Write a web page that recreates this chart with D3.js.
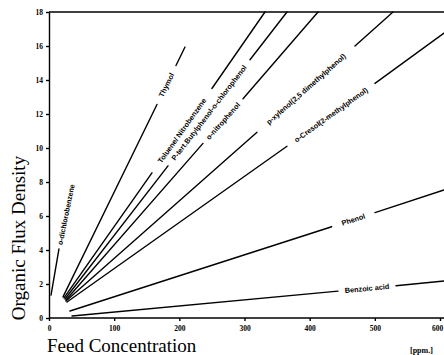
<!DOCTYPE html>
<html>
<head>
<meta charset="utf-8">
<script src="https://cdn.jsdelivr.net/npm/d3@7"></script>
<style>
body{margin:0;background:#fff;}
</style>
</head>
<body>
<div id="chart"></div>
<script>
// label written along each line
const names = ["o-dichlorobenzene", "Thymol", "Toluene/ Nitrobenzene", "P-tert.Butylphenol-o-chlorophenol",
  "o-nitrophenol", "p-xylenol(2,5 dimethylphenol)", "o-Cresol(2-methylphenol)", "Phenol", "Benzoic acid"];
// start of every line [ppm] / [flux]
const startX = [3.1, 21.5, 23, 24.5, 26, 26, 27.6, 32.2, 35.3];
const startY = [1.35, 1.24, 1.18, 1.12, 1.06, 1.0, 0.94, 0.41, 0.12];
// the line is broken where the label sits
const gapStartX = [15.3, 165.7, 158, 182.6, 236.3, 319.2, 365.2, 433.8, 443.5];
const gapStartY = [4.06, 12.56, 8.54, 8.95, 10.27, 10.93, 10.1, 5.37, 1.58];
const gapEndX = [36.8, 194.9, 250, 308.4, 297.7, 469.5, 500.2, 500.2, 532.5];
const gapEndY = [8.1, 14.85, 13.5, 15.19, 12.9, 16.0, 13.8, 6.2, 1.9];
// end of every line (null : the line stops at its label)
const endX = [null, 208.7, 331.4, 365.2, 412.8, 527.9, 606.1, 606.1, 606.1];
const endY = [null, 15.94, 18, 18, 18, 18, 16.76, 7.53, 2.18];

const xTicks = [0, 100, 200, 300, 400, 500, 600];
const yTicks = [0, 2, 4, 6, 8, 10, 12, 14, 16, 18];

function draw(width = 444, height = 355){
  const svg = d3.select("#chart").append("svg")
    .attr("width", width)
    .attr("height", height)
    .style("display", "block");

  const x = d3.scaleLinear().domain([0, 600]).range([49, 440]);
  const y = d3.scaleLinear().domain([0, 18]).range([318, 12]);

  svg.append("clipPath").attr("id", "plotclip")
    .append("rect").attr("x", x(0)).attr("y", y(18) - 1).attr("width", width - x(0)).attr("height", y(0) - y(18) + 2);

  const line = d3.line().x(d => x(d[0])).y(d => y(d[1]));

  // line pieces : before the label and after it
  let pieces = [];
  for (const i of names.keys()){
    pieces.push([[startX[i], startY[i]], [gapStartX[i], gapStartY[i]]]);
    if (endX[i] != null) pieces.push([[gapEndX[i], gapEndY[i]], [endX[i], endY[i]]]);
  }

  const plot = svg.append("g").attr("clip-path", "url(#plotclip)");
  plot.selectAll("path")
    .data(pieces)
    .enter()
    .append("path")
    .attr("d", d => line(d))
    .attr("fill", "none")
    .attr("stroke", "#000")
    .attr("stroke-width", 1.4)
    .attr("stroke-linecap", "round");

  // labels in the gaps, turned like the line
  plot.selectAll("text.lbl")
    .data(names)
    .enter()
    .append("text")
    .attr("class", "lbl")
    .attr("transform", (d, i) => {
      const x1 = x(gapStartX[i]), y1 = y(gapStartY[i]), x2 = x(gapEndX[i]), y2 = y(gapEndY[i]);
      const ang = Math.atan2(y2 - y1, x2 - x1) * 180 / Math.PI;
      return `translate(${(x1 + x2) / 2},${(y1 + y2) / 2}) rotate(${ang})`;
    })
    .attr("text-anchor", "middle")
    .attr("dy", "0.35em")
    .style("font-family", "Liberation Sans, Arial, sans-serif")
    .style("font-weight", "bold")
    .style("font-size", "7.3px")
    .text(d => d)
    .each(function(d, i){
      // squeeze a label that would not fit in its gap
      const gap = Math.hypot(x(gapEndX[i]) - x(gapStartX[i]), y(gapEndY[i]) - y(gapStartY[i]));
      if (this.getComputedTextLength() > gap * 0.88)
        d3.select(this).attr("textLength", gap * 0.88).attr("lengthAdjust", "spacingAndGlyphs");
    });

  // frame : top line and bottom line go to the page edge
  svg.append("line").attr("x1", x(0)).attr("x2", width).attr("y1", y(18)).attr("y2", y(18))
    .attr("stroke", "#000").attr("stroke-width", 1.6);
  svg.append("line").attr("x1", x(0)).attr("x2", width).attr("y1", y(0)).attr("y2", y(0))
    .attr("stroke", "#000").attr("stroke-width", 1.6);

  const yAxis = svg.append("g")
    .attr("transform", `translate(${x(0)},0)`)
    .call(d3.axisLeft(y).tickValues(yTicks).tickSize(3).tickSizeOuter(0).tickPadding(3));
  const xAxis = svg.append("g")
    .attr("transform", `translate(0,${y(0)})`)
    .call(d3.axisBottom(x).tickValues(xTicks).tickSize(3).tickSizeOuter(0).tickPadding(5));
  xAxis.select(".domain").remove();
  // last label sits on the page edge
  xAxis.selectAll(".tick text").filter(d => d == 600).attr("dx", -3);

  for (const ax of [xAxis, yAxis]){
    ax.selectAll("path, line").attr("stroke", "#000").attr("stroke-width", 1.4);
    ax.selectAll("text")
      .style("font-family", "Liberation Serif, Times New Roman, serif")
      .style("font-weight", "bold")
      .style("font-size", "7.5px")
      .attr("fill", "#000");
  }

  // titles
  svg.append("text")
    .attr("transform", "translate(25,238) rotate(-90)")
    .attr("text-anchor", "middle")
    .style("font-family", "Liberation Serif, Times New Roman, serif")
    .style("font-size", "19px")
    .text("Organic Flux Density");

  svg.append("text")
    .attr("x", 47).attr("y", 352)
    .style("font-family", "Liberation Serif, Times New Roman, serif")
    .style("font-size", "19px")
    .text("Feed Concentration");

  svg.append("text")
    .attr("x", 410).attr("y", 353)
    .style("font-family", "Liberation Serif, Times New Roman, serif")
    .style("font-weight", "bold")
    .style("font-size", "8px")
    .text("[ppm.]");

  return svg.node();
}

draw();
</script>
</body>
</html>
